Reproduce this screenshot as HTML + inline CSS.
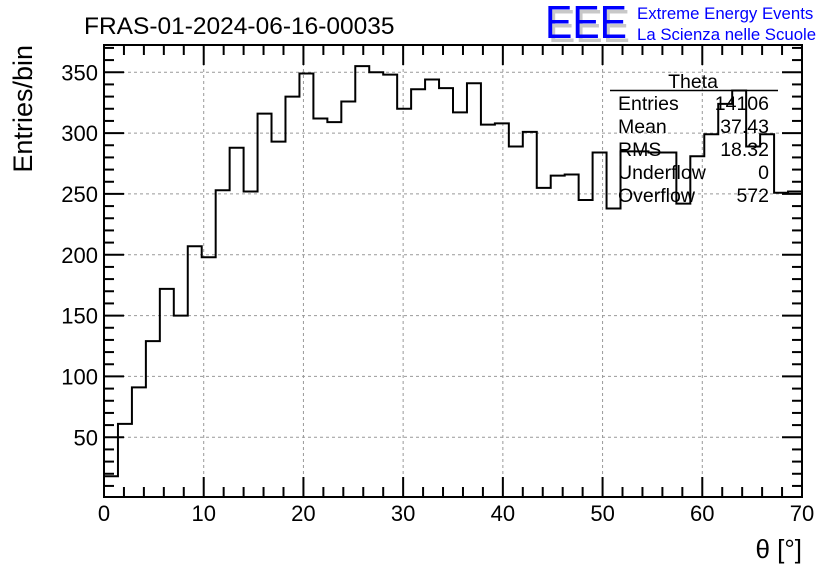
<!DOCTYPE html>
<html><head><meta charset="utf-8"><style>
html,body{margin:0;padding:0;background:#fff;}
svg{display:block;font-family:"Liberation Sans",sans-serif;}
</style></head><body>
<svg id="chart" width="836" height="572" xmlns="http://www.w3.org/2000/svg">
<rect width="836" height="572" fill="#fff"/>
<text x="84" y="34" font-size="24.5">FRAS-01-2024-06-16-00035</text>
<g>
<text x="548" y="42" font-size="46" fill="#c8c8c8" textLength="82" lengthAdjust="spacingAndGlyphs">EEE</text>
<text x="545" y="38" font-size="46" fill="#0000ff" textLength="82" lengthAdjust="spacingAndGlyphs">EEE</text>
<text x="637" y="19" font-size="16.8" fill="#0000ff">Extreme Energy Events</text>
<text x="637" y="40" font-size="16.8" fill="#0000ff">La Scienza nelle Scuole</text>
</g>
<g id="grid"></g>
<g id="axes"></g>
<path id="hist" fill="none" stroke="#000" stroke-width="2"/>
<g font-size="19.5">
<text x="693" y="88" text-anchor="middle">Theta</text>
<line x1="610" y1="90.5" x2="778" y2="90.5" stroke="#000" stroke-width="1.5"/>
<text x="618" y="110">Entries</text><text x="769" y="110" text-anchor="end">14106</text>
<text x="618" y="133">Mean</text><text x="769" y="133" text-anchor="end">37.43</text>
<text x="618" y="156">RMS</text><text x="769" y="156" text-anchor="end">18.32</text>
<text x="618" y="179">Underflow</text><text x="769" y="179" text-anchor="end">0</text>
<text x="618" y="202">Overflow</text><text x="769" y="202" text-anchor="end">572</text>
</g>
<text font-size="27" text-anchor="end" transform="translate(32 45) rotate(-90)">Entries/bin</text>
<text x="802" y="558" font-size="26" text-anchor="end">θ [°]</text>
</svg>
<script>
const binValues = [18,61,91,129,172,150,207,198,253,288,252,316,293,330,349,312,309,326,355,350,348,320,336,344,337,317,341,307,308,289,301,255,265,266,245,284,238,285,285,284,284,242,281,299,324,335,289,299,251,252];
const xTicks = [0,10,20,30,40,50,60,70];
const yTicks = [50,100,150,200,250,300,350];
const xMin=0,xMax=70,yMin=0.9,yMax=372.4;
const L=104,R=802,T=45,B=497;
const sx=v=>L+(v-xMin)/(xMax-xMin)*(R-L);
const sy=v=>B-(v-yMin)/(yMax-yMin)*(B-T);
const NS="http://www.w3.org/2000/svg";
function mk(tag,attrs,parent){const e=document.createElementNS(NS,tag);for(const k in attrs)e.setAttribute(k,attrs[k]);parent.appendChild(e);return e;}
const grid=document.getElementById('grid'),axes=document.getElementById('axes');
xTicks.forEach(t=>{if(t>xMin&&t<xMax){const l=mk('line',{x1:sx(t),x2:sx(t),y1:T,y2:B,stroke:'#999','stroke-dasharray':'3,3','stroke-width':1},grid);

}});
yTicks.forEach(t=>{const l=mk('line',{x1:L,x2:R,y1:sy(t),y2:sy(t),stroke:'#999','stroke-dasharray':'3,3','stroke-width':1},grid);

});
const frame=mk('rect',{x:L,y:T,width:R-L,height:B-T,fill:'none',stroke:'#000','stroke-width':2},axes);


for(let v=xMin;v<=xMax;v+=2){const maj=v%10===0;const len=maj?20:10;
mk('line',{x1:sx(v),x2:sx(v),y1:B,y2:B-len,stroke:'#000','stroke-width':2},axes);
mk('line',{x1:sx(v),x2:sx(v),y1:T,y2:T+len,stroke:'#000','stroke-width':2},axes);}
for(let v=10;v<yMax;v+=10){const maj=v%50===0;const len=maj?20:10;
mk('line',{x1:L,x2:L+len,y1:sy(v),y2:sy(v),stroke:'#000','stroke-width':2},axes);
mk('line',{x1:R,x2:R-len,y1:sy(v),y2:sy(v),stroke:'#000','stroke-width':2},axes);}
xTicks.forEach(t=>{const e=mk('text',{x:sx(t),y:521,'font-size':22,'text-anchor':'middle'},axes);e.textContent=t;

});
yTicks.forEach(t=>{const e=mk('text',{x:98,y:sy(t)+8,'font-size':22,'text-anchor':'end'},axes);e.textContent=t;

});
const w=(xMax-xMin)/binValues.length;
let d='M'+sx(xMin)+','+sy(binValues[0]);
binValues.forEach((v,i)=>{d+=' V'+sy(v)+' H'+sx(xMin+(i+1)*w);});
document.getElementById('hist').setAttribute('d',d);
</script>
</body></html>
